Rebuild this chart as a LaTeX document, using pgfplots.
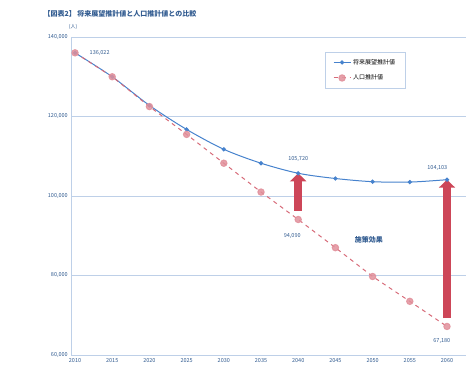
\documentclass[border=0pt]{standalone}
\usepackage{fontspec}
\setmainfont{Noto Sans CJK JP}
\usepackage{pgfplots}
\pgfplotsset{compat=1.18}
\usetikzlibrary{arrows.meta}
\definecolor{bl}{RGB}{70,130,205}
\definecolor{rd}{RGB}{205,70,88}
\definecolor{gr}{RGB}{190,208,232}
\begin{document}
\begin{tikzpicture}[x=1pt,y=1pt]
\useasboundingbox (0,0) rectangle (474,365);
\node[anchor=west, font=\fontsize{7}{8}\selectfont\bfseries, text=bl!70!black] at (40,351) {【図表2】 将来展望推計値と人口推計値との比較};
\node[anchor=center, font=\fontsize{5}{6}\selectfont, text=bl!70!black] at (73,338) {(人)};
\begin{axis}[at={(71.3pt,10pt)}, anchor=south west, scale only axis,
  width=394.3pt, height=318pt,
  xmin=2009.5, xmax=2062.5, ymin=60000, ymax=140000,
  xtick={2010,2015,...,2060}, ytick={60000,80000,...,140000},
  scaled y ticks=false,
  ymajorgrids, grid style={color=gr, line width=0.6pt},
  axis x line*=bottom, axis y line*=left,
  axis line style={color=gr, line width=0.6pt},
  major tick length=0pt,
  /pgf/number format/assume math mode=true,
  yticklabel style={/pgf/number format/fixed, /pgf/number format/1000 sep={,}, font=\fontsize{5.5}{6}\selectfont, text=bl!70!black},
  xticklabel style={/pgf/number format/1000 sep={}, font=\fontsize{5.5}{6}\selectfont, text=bl!70!black},
  legend style={at={(0.643,0.953)}, anchor=north west, draw=gr, font=\fontsize{6}{7}\selectfont,
    inner xsep=8pt, inner ysep=5pt, row sep=5pt, cells={anchor=west}},
  legend cell align=left,
  clip=false]
\addplot[bl, line width=1pt, smooth, mark=*, mark size=1.6pt, mark options={fill=bl}] coordinates {
(2010,136022) (2015,130000) (2020,122800) (2025,116750) (2030,111750) (2035,108250)
(2040,105720) (2045,104400) (2050,103600) (2055,103500) (2060,104103)};
\addlegendentry{将来展望推計値}
\addplot[rd!80, line width=1pt, dash pattern=on 4pt off 4pt, mark=*, mark size=3.2pt,
  mark options={solid, fill=rd!60, draw=rd!60, opacity=0.85}] coordinates {
(2010,136022) (2015,130000) (2020,122500) (2025,115500) (2030,108250) (2035,101000)
(2040,94090) (2045,87000) (2050,79750) (2055,73500) (2060,67180)};
\addlegendentry{人口推計値}
\draw[rd, line width=8pt, -{Triangle[width=16pt,length=8pt]}] (axis cs:2040,96300) -- (axis cs:2040,105720);
\draw[rd, line width=8pt, -{Triangle[width=16pt,length=8pt]}] (axis cs:2060,69300) -- (axis cs:2060,104103);
\node[anchor=west, font=\fontsize{5.5}{6}\selectfont, text=bl!70!black] at (axis cs:2011.5,136022) {136,022};
\node[anchor=south, font=\fontsize{5.5}{6}\selectfont, text=bl!70!black] at (axis cs:2040,107800) {105,720};
\node[anchor=north, font=\fontsize{5.5}{6}\selectfont, text=bl!70!black] at (axis cs:2039.2,91500) {94,090};
\node[anchor=south, font=\fontsize{5.5}{6}\selectfont, text=bl!70!black] at (axis cs:2058.7,105600) {104,103};
\node[anchor=north, font=\fontsize{5.5}{6}\selectfont, text=bl!70!black] at (axis cs:2059.3,65000) {67,180};
\node[font=\fontsize{7}{8}\selectfont\bfseries, text=bl!70!black] at (axis cs:2049.5,89000) {施策効果};
\end{axis}
\end{tikzpicture}
\end{document}
